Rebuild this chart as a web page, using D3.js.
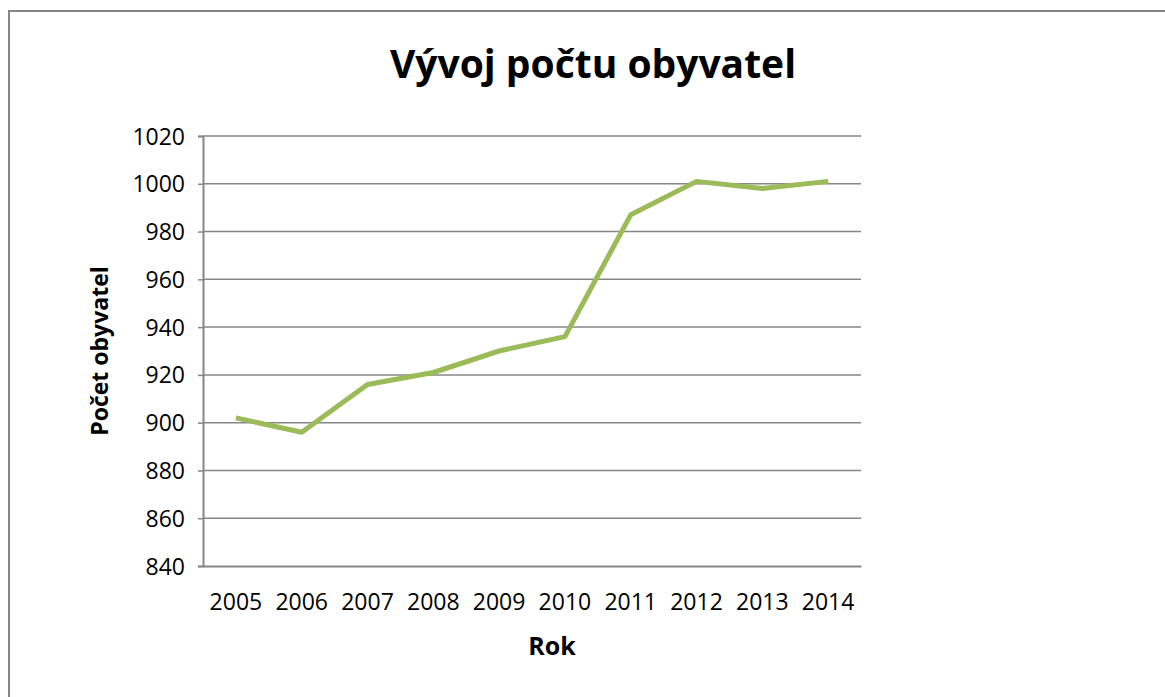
<!DOCTYPE html>
<html>
<head>
<meta charset="utf-8">
<script src="https://cdn.jsdelivr.net/npm/d3@7"></script>
<style>
  body { margin: 0; background: #fff; }
  text { font-family: 'Open Sans', sans-serif; }
</style>
</head>
<body>
<div id="chart"></div>
<script>
// data
var years = ['2005', '2006', '2007', '2008', '2009', '2010', '2011', '2012', '2013', '2014']
var population = [902, 896, 916, 921, 930, 936, 987, 1001, 998, 1001]
var yTicks = [840, 860, 880, 900, 920, 940, 960, 980, 1000, 1020]

var W = 1165
var H = 697
var margin = { top: 136, right: 304, bottom: 131, left: 203 }
var width = W - margin.left - margin.right
var height = H - margin.top - margin.bottom

var svg = d3.select('#chart')
  .append('svg')
  .attr('width', W)
  .attr('height', H)

// chart frame
svg.append('rect')
  .attr('x', 9)
  .attr('y', 11)
  .attr('width', W + 20)
  .attr('height', H + 20)
  .attr('fill', '#fff')
  .attr('stroke', '#868686')
  .attr('stroke-width', 2)

var g = svg.append('g')
  .attr('transform', 'translate(' + margin.left + ',' + margin.top + ')')

var x = d3.scaleBand()
  .domain(years)
  .range([0, width])

var y = d3.scaleLinear()
  .domain([840, 1020])
  .range([height, 0])

// horizontal gridlines
g.append('g')
  .selectAll('line')
  .data(yTicks.slice(1))
  .enter()
  .append('line')
  .attr('x1', 0)
  .attr('x2', width)
  .attr('y1', d => y(d))
  .attr('y2', d => y(d))
  .attr('stroke', '#868686')
  .attr('stroke-width', 1.5)

// y axis
var yAxis = g.append('g')
  .call(d3.axisLeft(y).tickValues(yTicks).tickFormat(d3.format('d')).tickSize(5).tickPadding(13))
yAxis.select('.domain').attr('stroke', '#868686').attr('stroke-width', 2)
yAxis.selectAll('.tick line').attr('stroke', '#868686').attr('stroke-width', 1.5)
yAxis.selectAll('.tick text')
  .attr('font-size', 23)
  .attr('fill', '#000')
  .attr('dy', '0.35em')

// x axis
var xAxis = g.append('g')
  .attr('transform', 'translate(0,' + height + ')')
  .call(d3.axisBottom(x).tickSize(0).tickPadding(28))
xAxis.select('.domain').attr('stroke', '#868686').attr('stroke-width', 2)
xAxis.selectAll('.tick text')
  .attr('font-size', 23)
  .attr('fill', '#000')

// the line
g.append('path')
  .datum(population)
  .attr('fill', 'none')
  .attr('stroke', '#9BBB59')
  .attr('stroke-width', 5)
  .attr('stroke-linejoin', 'round')
  .attr('d', d3.line()
    .x((d, i) => x(years[i]) + x.bandwidth() / 2)
    .y(d => y(d))
  )

// title
svg.append('text')
  .attr('x', 593)
  .attr('y', 78)
  .attr('text-anchor', 'middle')
  .attr('font-size', 39)
  .attr('font-weight', 'bold')
  .text('Vývoj počtu obyvatel')

// axis titles
svg.append('text')
  .attr('x', 552)
  .attr('y', 655)
  .attr('text-anchor', 'middle')
  .attr('font-size', 25)
  .attr('font-weight', 'bold')
  .text('Rok')

svg.append('text')
  .attr('transform', 'translate(108,351) rotate(-90)')
  .attr('text-anchor', 'middle')
  .attr('font-size', 23)
  .attr('font-weight', 'bold')
  .text('Počet obyvatel')
</script>
</body>
</html>
